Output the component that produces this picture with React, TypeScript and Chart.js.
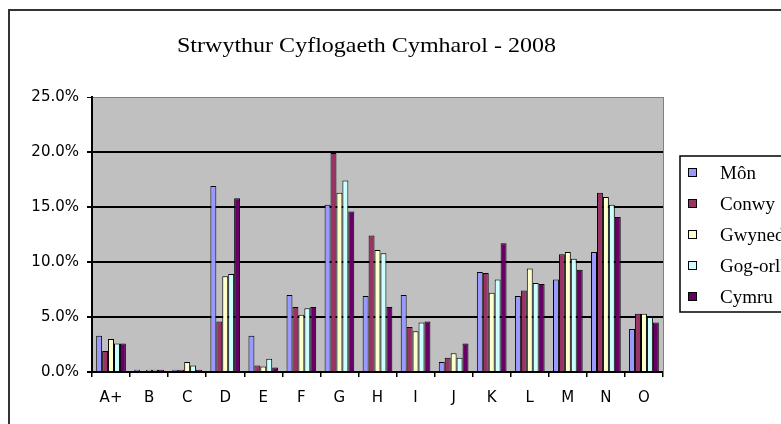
import React, { useEffect, useRef } from "react";
import { Chart, registerables } from "chart.js";

Chart.register(...registerables);

const TITLE = "Strwythur Cyflogaeth Cymharol - 2008";
const categories = ["A+", "B", "C", "D", "E", "F", "G", "H", "I", "J", "K", "L", "M", "N", "O"];
const seriesNames = ["Môn", "Conwy", "Gwynedd", "Gog-orllewin", "Cymru"];
const seriesColors = ["#9999FF", "#993366", "#FFFFCC", "#CCFFFF", "#660066"];

const mon = [3.3, 0.2, 0.2, 16.9, 3.3, 7.0, 15.2, 6.9, 7.0, 0.9, 9.1, 6.9, 8.4, 10.9, 3.9];
const conwy = [1.9, 0.0, 0.2, 4.6, 0.6, 5.9, 19.9, 12.4, 4.1, 1.3, 9.0, 7.4, 10.7, 16.3, 5.3];
const gwynedd = [3.0, 0.2, 0.9, 8.7, 0.5, 5.2, 16.3, 11.1, 3.7, 1.7, 7.2, 9.4, 10.9, 15.9, 5.3];
const gogorll = [2.6, 0.2, 0.6, 8.9, 1.2, 5.8, 17.4, 10.8, 4.5, 1.3, 8.4, 8.1, 10.3, 15.2, 5.0];
const cymru = [2.6, 0.2, 0.2, 15.8, 0.4, 5.9, 14.6, 5.9, 4.6, 2.6, 11.7, 8.0, 9.3, 14.1, 4.5];
const seriesValues = [mon, conwy, gwynedd, gogorll, cymru];

const yTicks = [0, 5, 10, 15, 20, 25];

const decorPlugin = {
  id: "decor",
  beforeDraw(chart: any) {
    const { ctx, chartArea } = chart;
    ctx.save();
    ctx.fillStyle = "#ffffff";
    ctx.fillRect(0, 0, chart.width, chart.height);
    ctx.fillStyle = "#C0C0C0";
    ctx.fillRect(chartArea.left, chartArea.top, chartArea.right - chartArea.left, chartArea.bottom - chartArea.top);
    ctx.restore();
  },
  afterDraw(chart: any) {
    const { ctx, chartArea } = chart;
    ctx.save();
    // outer frame
    ctx.strokeStyle = "#333333";
    ctx.lineWidth = 2;
    ctx.strokeRect(9, 10, chart.width + 20, chart.height + 20);
    // plot right border (gray)
    ctx.strokeStyle = "#808080";
    ctx.lineWidth = 1;
    ctx.beginPath();
    ctx.moveTo(chartArea.right + 0.5, chartArea.top);
    ctx.lineTo(chartArea.right + 0.5, chartArea.bottom);
    ctx.stroke();
    // title (slightly stretched horizontally like the source image)
    ctx.fillStyle = "#000";
    ctx.font = "22px 'Liberation Serif', 'Times New Roman', serif";
    ctx.textAlign = "left";
    ctx.textBaseline = "alphabetic";
    const tw = ctx.measureText(TITLE).width;
    const sx = 379 / tw;
    ctx.save();
    ctx.translate(177, 52);
    ctx.scale(sx, 1);
    ctx.fillText(TITLE, 0, 0);
    ctx.restore();
    // legend
    ctx.strokeStyle = "#000";
    ctx.lineWidth = 1.5;
    ctx.strokeRect(680, 156, 140, 156);
    ctx.font = "19px 'Liberation Serif', 'Times New Roman', serif";
    ctx.textAlign = "left";
    ctx.textBaseline = "middle";
    chart.data.datasets.forEach((ds: any, i: number) => {
      const cy = 173 + i * 31;
      ctx.fillStyle = ds.backgroundColor;
      ctx.fillRect(688, cy - 4, 8, 8);
      ctx.strokeStyle = "#000";
      ctx.lineWidth = 1;
      ctx.strokeRect(688.5, cy - 4.5, 8, 8);
      ctx.fillStyle = "#000";
      ctx.fillText(ds.label, 720, cy + 1);
    });
    ctx.restore();
  },
};

export default function App() {
  const ref = useRef<HTMLCanvasElement>(null);
  useEffect(() => {
    if (!ref.current) return;
    const chart = new Chart(ref.current, {
      type: "bar",
      data: {
        labels: categories,
        datasets: seriesNames.map((name, i) => ({
          label: name,
          data: seriesValues[i],
          backgroundColor: seriesColors[i],
          borderColor: "#000",
          borderWidth: 1,
          categoryPercentage: 0.78,
          barPercentage: 1,
        })),
      },
      options: {
        animation: false,
        responsive: false,
        devicePixelRatio: 1,
        layout: { padding: { top: 97, right: 118, left: 0, bottom: 0 } },
        plugins: {
          legend: { display: false },
          title: { display: false },
          tooltip: { enabled: false },
        },
        scales: {
          x: {
            offset: true,
            grid: {
              offset: true,
              drawOnChartArea: false,
              drawTicks: true,
              tickLength: 5,
              tickColor: "#000",
              lineWidth: 1.5,
            },
            border: { color: "#000", width: 2 },
            ticks: {
              color: "#000",
              font: { family: "'DejaVu Sans', Arial, sans-serif", size: 15 },
              padding: 12,
              maxRotation: 0,
              autoSkip: false,
            },
            afterFit(scale: any) {
              scale.height = 52;
            },
          },
          y: {
            min: 0,
            max: 25,
            afterBuildTicks(scale: any) {
              scale.ticks = yTicks.map((v) => ({ value: v }));
            },
            grid: {
              color: (c: any) => (c.tick && c.tick.value === 25 ? "#808080" : "#000"),
              lineWidth: (c: any) => (c.tick && c.tick.value === 25 ? 1 : 2),
              tickColor: "#000",
              tickLength: 5,
            },
            border: { color: "#000", width: 2 },
            ticks: {
              color: "#000",
              font: { family: "'DejaVu Sans', Arial, sans-serif", size: 15 },
              padding: 8,
              callback: (v: any) => Number(v).toFixed(1) + "%",
            },
            afterFit(scale: any) {
              scale.width = 92;
            },
          },
        },
      },
      plugins: [decorPlugin],
    });
    return () => chart.destroy();
  }, []);
  return (
    <div style={{ position: "fixed", left: 0, top: 0, width: 781, height: 424 }}>
      <canvas ref={ref} width={781} height={424} style={{ display: "block" }} />
    </div>
  );
}
